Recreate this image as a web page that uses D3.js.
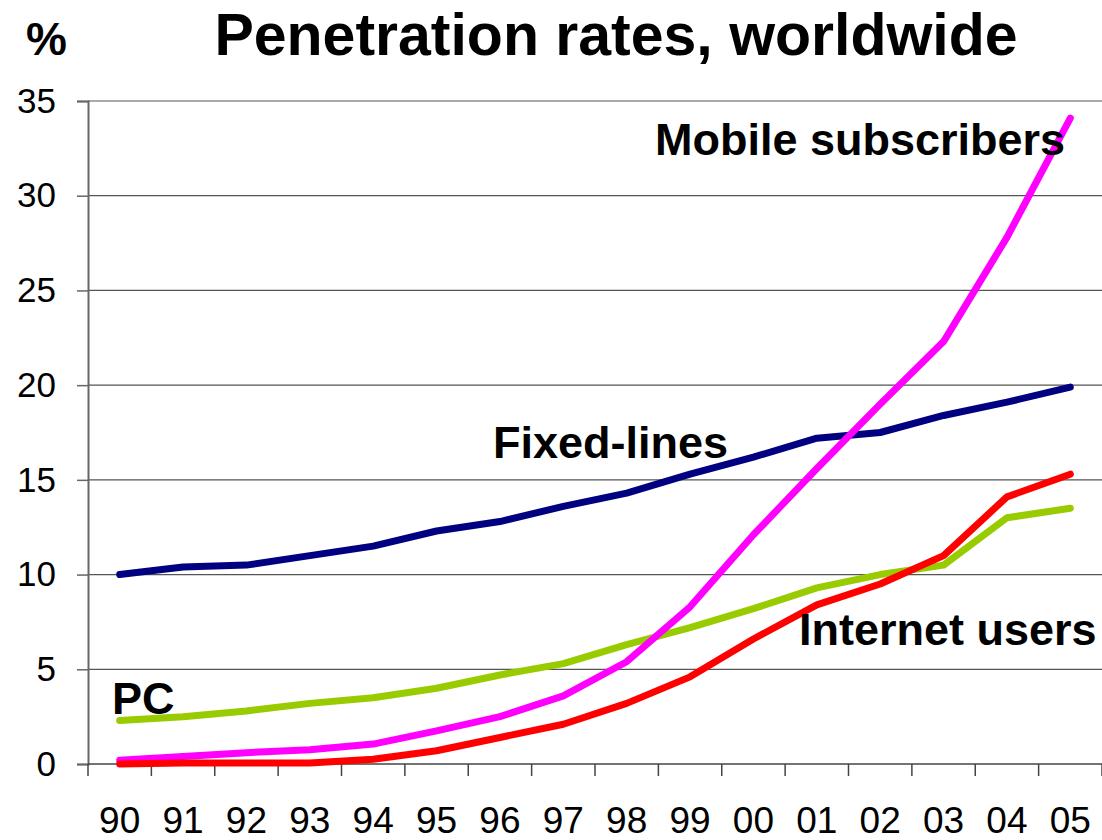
<!DOCTYPE html>
<html>
<head>
<meta charset="utf-8">
<script src="https://d3js.org/d3.v7.min.js"></script>
<style>
  body { margin: 0; background: #fff; }
  text { font-family: "Liberation Sans", Arial, sans-serif; }
</style>
</head>
<body>
<svg id="chart" width="1102" height="840"></svg>
<script>
// years along the x axis
let years = ["90", "91", "92", "93", "94", "95", "96", "97", "98", "99", "00", "01", "02", "03", "04", "05"];
let yTicks = [0, 5, 10, 15, 20, 25, 30, 35];

// penetration rates, %
let fixedLines = [10.0, 10.4, 10.5, 11.0, 11.5, 12.3, 12.8, 13.6, 14.3, 15.3, 16.2, 17.2, 17.5, 18.4, 19.1, 19.9];
let mobileSubscribers = [0.2, 0.4, 0.6, 0.75, 1.05, 1.75, 2.5, 3.6, 5.4, 8.3, 12.1, 15.6, 19.0, 22.3, 27.8, 34.1];
let internetUsers = [0.0, 0.05, 0.05, 0.05, 0.25, 0.7, 1.4, 2.1, 3.2, 4.6, 6.6, 8.4, 9.5, 11.0, 14.1, 15.3];
let pcs = [2.3, 2.5, 2.8, 3.2, 3.5, 4.0, 4.7, 5.3, 6.3, 7.2, 8.2, 9.3, 10.0, 10.5, 13.0, 13.5];

let series = [
    {name: "Fixed-lines", values: fixedLines, color: "#000080"},
    {name: "PC", values: pcs, color: "#99CC00"},
    {name: "Mobile subscribers", values: mobileSubscribers, color: "#FF00FF"},
    {name: "Internet users", values: internetUsers, color: "#FF0000"}
];

// label positions (anchor x = start, baseline)
let labels = [
    {text: "Mobile subscribers", x: 655, y: 155},
    {text: "Fixed-lines", x: 493, y: 458},
    {text: "Internet users", x: 799, y: 645},
    {text: "PC", x: 112, y: 714}
];

let svg = d3.select("#chart");
let margin = {top: 101, right: 0, bottom: 76, left: 88},
    width = 1102 - margin.left - margin.right,
    height = 840 - margin.top - margin.bottom;

let g = svg.append("g").attr("transform", "translate(" + margin.left + "," + margin.top + ")");

let x = d3.scaleBand().domain(years).range([0, width]);
let y = d3.scaleLinear().domain([0, 35]).range([height, 0]);

// gridlines
g.append("g")
    .selectAll("line")
    .data(yTicks.filter(d => d > 0))
    .enter().append("line")
    .attr("x1", 0)
    .attr("x2", width)
    .attr("y1", d => y(d))
    .attr("y2", d => y(d))
    .attr("stroke", "#555")
    .attr("stroke-width", 1.2);

// y axis
let yAxis = g.append("g")
    .call(d3.axisLeft(y).tickValues(yTicks).tickSize(11).tickPadding(21).tickFormat(d3.format("d")));
yAxis.select(".domain").attr("stroke", "#666").attr("stroke-width", 2);
yAxis.selectAll(".tick line").attr("stroke", "#666").attr("stroke-width", 1.5);
yAxis.selectAll("text").style("font-size", "35px").attr("fill", "#000");

// x axis: ticks on band edges, labels at band centres
g.append("line")
    .attr("x1", 0).attr("x2", width)
    .attr("y1", height).attr("y2", height)
    .attr("stroke", "#444").attr("stroke-width", 1.5);

g.append("g")
    .selectAll("line")
    .data(years.concat(["end"]))
    .enter().append("line")
    .attr("x1", (d, i) => i * x.bandwidth())
    .attr("x2", (d, i) => i * x.bandwidth())
    .attr("y1", height)
    .attr("y2", height + 12)
    .attr("stroke", "#444")
    .attr("stroke-width", 1.5);

g.append("g")
    .selectAll("text")
    .data(years)
    .enter().append("text")
    .attr("x", d => x(d) + x.bandwidth() / 2)
    .attr("y", height + 69)
    .attr("text-anchor", "middle")
    .style("font-size", "37px")
    .text(d => d);

// lines
let line = d3.line()
    .x((d, i) => x(years[i]) + x.bandwidth() / 2)
    .y(d => y(d));

g.selectAll(".series")
    .data(series)
    .enter().append("path")
    .attr("class", "series")
    .attr("d", d => line(d.values))
    .attr("fill", "none")
    .attr("stroke", d => d.color)
    .attr("stroke-width", 7)
    .attr("stroke-linejoin", "round")
    .attr("stroke-linecap", "round");

// series labels
svg.selectAll(".label")
    .data(labels)
    .enter().append("text")
    .attr("class", "label")
    .attr("x", d => d.x)
    .attr("y", d => d.y)
    .style("font-size", "45px")
    .style("font-weight", "bold")
    .text(d => d.text);

// title and unit
svg.append("text")
    .attr("x", 616)
    .attr("y", 55)
    .attr("text-anchor", "middle")
    .style("font-size", "59px")
    .style("font-weight", "bold")
    .text("Penetration rates, worldwide");

svg.append("text")
    .attr("x", 26)
    .attr("y", 55)
    .style("font-size", "46px")
    .style("font-weight", "bold")
    .text("%");
</script>
</body>
</html>
